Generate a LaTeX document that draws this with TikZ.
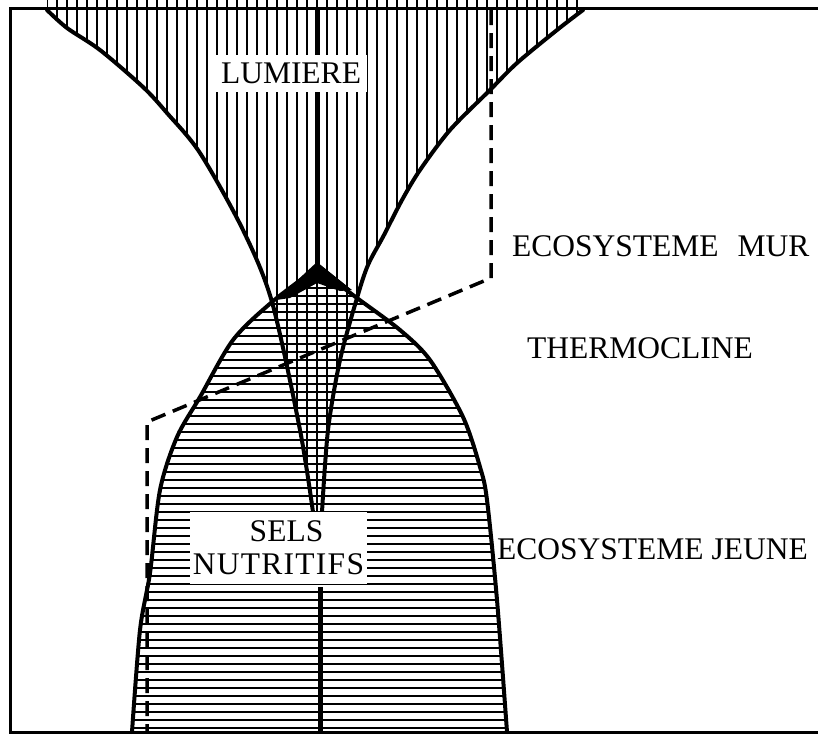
\documentclass[tikz,border=0pt]{standalone}
\usepackage{fontspec}
\setmainfont{Liberation Serif}
\usetikzlibrary{positioning}
\tikzset{
  rim/.style={line width=4pt, line join=round, line cap=round},
  vhatch/.style={line width=2.2pt},
  hhatch/.style={line width=2.3pt},
  spine/.style={line width=5pt},
  limit/.style={line width=3.5pt, dash pattern=on 15pt off 8pt},
  tag/.style={font=\fontsize{31.5}{33}\selectfont, inner sep=0pt},
  blank/.style={tag, fill=white, align=center}}

\begin{document}
\begin{tikzpicture}[x=1pt, y=-1pt]
\useasboundingbox (0,0) rectangle (818,734);
% light coming down from the surface
\begin{scope}
  \clip plot[smooth] coordinates {(47,10) (67,28) (100,50) (143,87) (167,113) (200,153) (243,230) (272,302) (300,430) (313,512) (318,560)}
     -- plot[smooth] coordinates {(322,512) (328,430) (340,360) (357,298) (368,265) (384,235) (402,200) (420,170) (450,130) (490,90) (517,63) (557,30) (583,10)}
     -- (583,0) -- (47,0) -- cycle;
  \foreach \x in {47,57,...,587}
    \draw[vhatch] (\x,0) -- (\x,560);
\end{scope}
% nutrients coming up from below
\begin{scope}
  \clip plot[smooth] coordinates {(132,734) (140,630) (150,573) (160,490) (177,437) (200,397) (233,340) (272,302) (317,268)}
     -- plot[smooth] coordinates {(317,268) (357,298) (400,330) (430,360) (463,417) (480,467) (487,500) (497,600) (507,734)} -- cycle;
  \foreach \y in {272,280,...,734}
    \draw[hhatch] (100,\y) -- (520,\y);
\end{scope}
\draw[rim] plot[smooth] coordinates {(47,10) (67,28) (100,50) (143,87) (167,113) (200,153) (243,230) (272,302) (300,430) (313,512)};
\draw[rim] plot[smooth] coordinates {(322,512) (328,430) (340,360) (357,298) (368,265) (384,235) (402,200) (420,170) (450,130) (490,90) (517,63) (557,30) (583,10)};
\draw[rim] plot[smooth] coordinates {(132,732) (140,630) (150,573) (160,490) (177,437) (200,397) (233,340) (272,302) (317,268)};
\draw[rim] plot[smooth] coordinates {(317,268) (357,298) (400,330) (430,360) (463,417) (480,467) (487,500) (497,600) (507,732)};
\draw[spine] (317,8) -- (317,268);
\draw[spine] (320,587) -- (320,732);
\fill (276,300) -- (317,262) -- (352,290) -- (340,291) -- (317,283) -- (290,298) -- cycle;
% limit between the two ecosystems
\coordinate (d1) at (491,10);
\coordinate (d2) at (491,278);
\coordinate (d3) at (147,422);
\coordinate (d4) at (147,732);
\draw[limit] (d1) -- (d2) -- (d3) -- (d4);
% frame
\draw[line width=3pt] (818,8) -- (10,8) -- (10,732) -- (818,732);
\node[blank, minimum width=152pt, minimum height=37pt] (lumiere) at (291,73.5) {LUMIERE};
\node[blank, minimum width=177pt, minimum height=72pt] (sels) at (278.5,548)
  {\hspace*{16pt}SELS\\{\addfontfeatures{LetterSpace=4}NUTRITIFS}};
\node[tag, anchor=base west] (mur) at (512,256) {ECOSYSTEME\hspace{0.6em}MUR};
\node[tag, anchor=base west] (thermo) at (527,358) {THERMOCLINE};
\node[tag, anchor=base west] (jeune) at (497,559) {ECOSYSTEME JEUNE};
\end{tikzpicture}
\end{document}
